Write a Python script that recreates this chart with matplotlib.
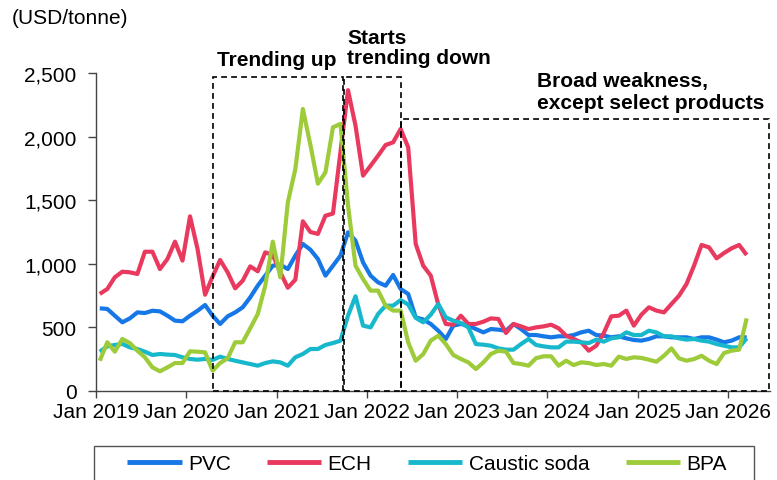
import matplotlib
matplotlib.use("Agg")
import matplotlib.pyplot as plt
from matplotlib import font_manager
from matplotlib.patches import Rectangle
from matplotlib.ticker import FuncFormatter
import numpy as np

# Prefer a narrow sans face when it is installed
installed = {f.name for f in font_manager.fontManager.ttflist}
if "Liberation Sans Narrow" in installed:
    FAMILY, FS = "Liberation Sans Narrow", 17.5
else:
    FAMILY, FS = "Liberation Sans", 15
plt.rcParams["font.family"] = [FAMILY, "DejaVu Sans"]

# Monthly prices, USD/tonne, Jan 2019 onwards
pvc = [650, 645, 592, 540, 571, 618, 613, 631, 626, 592, 553, 548, 592, 631, 676,
       592, 527, 587, 618, 658, 736, 828, 907, 985, 993, 959, 1064, 1156, 1111, 1038,
       907, 985, 1064, 1247, 1182, 1011, 907, 854, 828, 912, 802, 763, 579, 562, 527,
       474, 409, 514, 527, 514, 487, 461, 487, 482, 474, 527, 487, 440, 440, 430,
       422, 430, 430, 440, 461, 474, 440, 435, 422, 430, 414, 401, 396, 409, 430,
       430, 422, 422, 422, 409, 422, 422, 404, 383, 396, 422, 422]
ech = [763, 802, 894, 938, 933, 920, 1095, 1095, 959, 1038, 1174, 1025, 1373, 1116, 757,
       900, 1030, 933, 807, 867, 980, 941, 1090, 1069, 933, 812, 875, 1334, 1250, 1235,
       1378, 1395, 1880, 2365, 2086, 1693, 1771, 1850, 1934, 1955, 2060, 1916, 1156, 985, 907,
       680, 527, 521, 592, 527, 527, 545, 571, 566, 456, 527, 508, 487, 500, 508,
       521, 493, 435, 409, 383, 317, 356, 456, 587, 592, 632, 514, 600, 658, 632,
       618, 684, 749, 841, 985, 1148, 1129, 1043, 1085, 1122, 1148, 1069]
caustic_soda = [309, 351, 362, 370, 343, 330, 309, 283, 291, 286, 283, 265, 252, 246, 252,
                244, 270, 252, 238, 225, 212, 199, 220, 233, 225, 199, 265, 291, 330, 330,
                362, 377, 396, 592, 745, 514, 500, 605, 671, 671, 715, 680, 575, 540, 600,
                684, 579, 553, 535, 500, 369, 364, 356, 335, 325, 325, 369, 409, 362, 351,
                343, 343, 388, 388, 383, 377, 404, 388, 414, 422, 461, 440, 440, 474, 461,
                430, 430, 414, 404, 409, 396, 388, 369, 356, 343, 343, 414]
bpa = [238, 383, 309, 409, 377, 317, 265, 186, 155, 186, 220, 220, 312, 309, 304,
       160, 220, 257, 383, 383, 493, 605, 828, 1174, 894, 1483, 1745, 2217, 1935, 1630,
       1719, 2073, 2100, 1460, 985, 880, 789, 789, 671, 632, 632, 383, 238, 290, 396,
       435, 369, 283, 252, 225, 173, 225, 291, 317, 309, 220, 212, 199, 258, 273,
       273, 199, 238, 204, 225, 220, 204, 212, 199, 270, 252, 265, 260, 246, 230,
       277, 335, 257, 238, 251, 277, 238, 212, 299, 317, 325, 571]

series_names = ["PVC", "ECH", "Caustic soda", "BPA"]
series_values = [pvc, ech, caustic_soda, bpa]
series_colors = ["#1677E6", "#E9395F", "#17B8CB", "#9DCB3A"]

tick_labels = ["Jan 2019", "Jan 2020", "Jan 2021", "Jan 2022",
               "Jan 2023", "Jan 2024", "Jan 2025", "Jan 2026"]

W, H = 777, 481
fig = plt.figure(figsize=(W / 100, H / 100), dpi=100)
ax = fig.add_axes([96 / W, 89 / H, 674 / W, 318 / H])

# mid-month positions, measured in months from Jan 2019
for name, vals, col in zip(series_names, series_values, series_colors):
    x = np.arange(len(vals)) + 0.5
    ax.plot(x, vals, color=col, lw=3.0, solid_joinstyle="round",
            solid_capstyle="butt", label=name, zorder=3)

ax.set_xlim(0, 89.6)
ax.set_ylim(0, 2500)
ax.set_xticks(np.arange(len(tick_labels)) * 12)
ax.set_xticklabels(tick_labels)
ax.set_yticks(np.arange(0, 2501, 500))
ax.yaxis.set_major_formatter(FuncFormatter(lambda v, p: f"{v:,.0f}"))
for s in ("top", "right"):
    ax.spines[s].set_visible(False)
for s in ("left", "bottom"):
    ax.spines[s].set_color("#444444")
    ax.spines[s].set_linewidth(1.0)
ax.tick_params(axis="y", direction="out", length=6, width=1, color="#444444",
               labelsize=FS, pad=8)
ax.tick_params(axis="x", direction="out", length=5, width=1, color="#444444",
               labelsize=FS, pad=3)

# Period boxes
box_kw = dict(fill=False, ec="black", lw=1.2, ls=(0, (3.5, 2.5)), zorder=4,
              clip_on=False)
ax.add_patch(Rectangle((15.6, 0), 32.8 - 15.6, 2470, **box_kw))
ax.add_patch(Rectangle((32.95, 0), 40.55 - 32.95, 2470, **box_kw))
ax.add_patch(Rectangle((40.55, 0), 89.45 - 40.55, 2135, **box_kw))

ax.text(24.0, 2610, "Trending up", ha="center", va="center",
        fontsize=FS, fontweight="bold")
ax.text(33.4, 2700, "Starts\ntrending down", ha="left", va="center",
        fontsize=FS, fontweight="bold", linespacing=1.1)
ax.text(58.6, 2355, "Broad weakness,\nexcept select products", ha="left",
        va="center", fontsize=FS, fontweight="bold", linespacing=1.15)

fig.text(12 / W, 1 - 18 / H, "(USD/tonne)", ha="left", va="center", fontsize=FS)

# Legend with a square frame running off the bottom edge
fig.patches.append(Rectangle((94 / W, -0.05), 660 / W, 0.05 + (H - 447) / H,
                             transform=fig.transFigure, fill=False,
                             ec="#555555", lw=1.0))
leg = fig.legend(*ax.get_legend_handles_labels(), loc="center",
                 bbox_to_anchor=(427 / W, 1 - 465 / H), ncol=4,
                 frameon=False, fontsize=FS, handlelength=2.6,
                 handletextpad=0.3, columnspacing=1.75, borderpad=0)
for h in leg.get_lines():
    h.set_linewidth(3.5)

fig.savefig("out.png", dpi=100)
